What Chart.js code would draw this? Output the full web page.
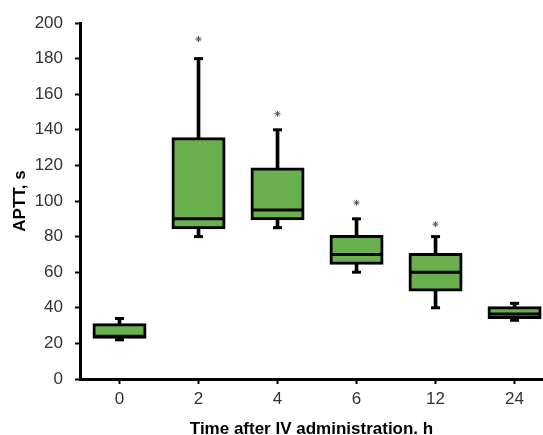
<!DOCTYPE html>
<html>
<head>
<meta charset="utf-8">
<script src="https://cdn.jsdelivr.net/npm/chart.js@4"></script>
<style>
  html, body { margin: 0; padding: 0; background: #fff; overflow: hidden; }
  #wrap { width: 543px; height: 440px; }
</style>
</head>
<body>
<div id="wrap"><canvas id="c" width="543" height="440"></canvas></div>
<script>
// ---- data ----
const categories   = ['0', '2', '4', '6', '12', '24'];
const whiskerLow   = [22, 80, 85, 60, 40, 33];
const quartile1    = [23.5, 85, 90, 65, 50, 34.5];
const medians      = [24, 90, 95, 70, 60, 36.5];
const quartile3    = [30.5, 135, 118, 80, 70, 40];
const whiskerHigh  = [34, 180, 140, 90, 80, 42.5];
const starValues   = [null, 191, 149, 99, 87, null];
const yTicks       = [0, 20, 40, 60, 80, 100, 120, 140, 160, 180, 200];

const idx = categories.map((_, i) => i);
const fontFamily = "Arial, 'Liberation Sans', sans-serif";

const whiskerData = idx.map(i => ({ x: i, y: [whiskerLow[i], whiskerHigh[i]] }));
const boxData = idx.map(i => ({ x: i, y: [quartile1[i], quartile3[i]] }));
const medianData = idx.map(i => ({ x: i, y: medians[i] }));
const capData = idx.flatMap(i => [{ x: i, y: whiskerLow[i] }, { x: i, y: whiskerHigh[i] }]);
const starData = idx.filter(i => starValues[i] !== null).map(i => ({ x: i, y: starValues[i] }));

function zeroPad(s) { s.paddingLeft = 0; s.paddingRight = 0; s.paddingTop = 0; s.paddingBottom = 0; }

new Chart(document.getElementById('c'), {
  type: 'bar',
  data: {
    datasets: [
      {
        type: 'bar', data: whiskerData, backgroundColor: '#000', borderWidth: 0,
        barThickness: 3, grouped: false, order: 4
      },
      {
        type: 'bar', data: boxData, backgroundColor: '#6AB04F', borderColor: '#000',
        borderWidth: 3, inflateAmount: 1.5, borderSkipped: false, barThickness: 51,
        grouped: false, order: 3
      },
      {
        type: 'scatter', data: medianData, pointStyle: 'line', pointRadius: 25,
        borderColor: '#000', borderWidth: 3, showLine: false, order: 2
      },
      {
        type: 'scatter', data: capData, pointStyle: 'line', pointRadius: 4.5,
        borderColor: '#000', borderWidth: 3, showLine: false, order: 1
      },
      {
        type: 'scatter', data: starData, pointStyle: 'star', pointRadius: 3,
        borderColor: '#555', backgroundColor: '#555', borderWidth: 1, showLine: false, order: 0
      }
    ]
  },
  options: {
    responsive: false,
    animation: false,
    events: [],
    layout: { autoPadding: false, padding: { top: 23, left: 0, right: 0, bottom: 0 } },
    plugins: { legend: { display: false }, tooltip: { enabled: false } },
    scales: {
      x: {
        type: 'linear',
        min: -0.5,
        max: 5.36,
        offset: false,
        grid: { offset: false, drawOnChartArea: false, drawTicks: true, tickLength: 5, tickColor: '#000', tickWidth: 2 },
        border: { display: true, color: '#000', width: 3 },
        afterBuildTicks: s => { s.ticks = idx.map(v => ({ value: v })); },
        afterFit: s => { s.height = 61; zeroPad(s); },
        ticks: {
          padding: 5,
          color: '#333',
          font: { family: fontFamily, size: 17 },
          callback: v => categories[v]
        },
        title: {
          display: true,
          text: 'Time after IV administration. h',
          color: '#000',
          font: { family: fontFamily, size: 17, weight: 'bold' },
          padding: { top: 0, bottom: 0 }
        }
      },
      y: {
        type: 'linear',
        min: 0,
        max: 200,
        grid: { drawOnChartArea: false, drawTicks: true, tickLength: 5, tickColor: '#000', tickWidth: 2 },
        border: { display: true, color: '#000', width: 3 },
        afterBuildTicks: s => { s.ticks = yTicks.map(v => ({ value: v })); },
        afterFit: s => { s.width = 80; zeroPad(s); },
        ticks: {
          padding: 12,
          color: '#333',
          font: { family: fontFamily, size: 17 }
        },
        title: {
          display: true,
          text: 'APTT, s',
          color: '#000',
          font: { family: fontFamily, size: 17, weight: 'bold' },
          padding: { top: 10, bottom: 0 }
        }
      }
    }
  }
});
</script>
</body>
</html>
